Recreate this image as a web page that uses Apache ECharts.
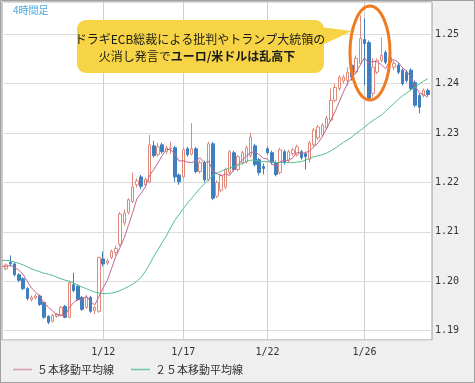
<!DOCTYPE html>
<html><head><meta charset="utf-8">
<script src="https://cdn.jsdelivr.net/npm/echarts@6/dist/echarts.min.js"></script>
<style>html,body{margin:0;padding:0;background:#efefef}#c{width:475px;height:383px}</style>
</head><body><div id="c"></div><script>
// tick labels (date) and their bar positions
const tickLabels = ['1/12', '1/17', '1/22', '1/26'];
const tickIndex = [24, 43, 63, 86];
const barCount = 103; // bar slots incl. an empty slot at each end

// 4-hour candles (bars 1..101)
const opens = [1.2025,1.2038,1.2035,1.2013,1.2005,1.1985,1.1963,1.1966,1.1970,1.1957,
1.1929,1.1919,1.1929,1.1931,1.1949,1.1927,1.1993,1.1990,1.1967,1.1947,
1.1967,1.1941,1.1939,1.2045,1.2037,1.2048,1.2058,1.2075,1.2118,1.2139,
1.2161,1.2195,1.2211,1.2195,1.2201,1.2274,1.2256,1.2276,1.2262,1.2268,
1.2270,1.2215,1.2211,1.2268,1.2257,1.2268,1.2222,1.2240,1.2205,1.2278,
1.2172,1.2184,1.2190,1.2220,1.2260,1.2226,1.2240,1.2242,1.2254,1.2274,
1.2246,1.2232,1.2268,1.2260,1.2240,1.2220,1.2262,1.2244,1.2258,1.2256,
1.2262,1.2258,1.2246,1.2276,1.2290,1.2296,1.2310,1.2326,1.2366,1.2390,
1.2405,1.2406,1.2437,1.2423,1.2441,1.2489,1.2483,1.2380,1.2423,1.2447,
1.2463,1.2443,1.2433,1.2437,1.2427,1.2423,1.2427,1.2402,1.2376,1.2376,1.2386];
const closes = [1.2033,1.2035,1.2013,1.2002,1.1985,1.1965,1.1967,1.1970,1.1953,1.1927,
1.1917,1.1931,1.1933,1.1947,1.1927,1.1997,1.1981,1.1963,1.1943,1.1967,
1.1939,1.1947,1.2048,1.2035,1.2041,1.2060,1.2066,1.2136,1.2138,1.2165,
1.2191,1.2203,1.2192,1.2206,1.2276,1.2254,1.2272,1.2262,1.2270,1.2270,
1.2211,1.2201,1.2266,1.2256,1.2268,1.2222,1.2240,1.2205,1.2278,1.2168,
1.2200,1.2214,1.2226,1.2262,1.2226,1.2252,1.2260,1.2270,1.2292,1.2236,
1.2220,1.2228,1.2260,1.2240,1.2216,1.2266,1.2240,1.2262,1.2266,1.2272,
1.2250,1.2252,1.2280,1.2306,1.2312,1.2316,1.2330,1.2366,1.2392,1.2413,
1.2413,1.2423,1.2413,1.2451,1.2491,1.2481,1.2370,1.2433,1.2447,1.2457,
1.2443,1.2453,1.2441,1.2423,1.2400,1.2406,1.2390,1.2356,1.2352,1.2386,1.2378];
const lows = [1.2022,1.2030,1.2010,1.1998,1.1982,1.1961,1.1959,1.1963,1.1950,1.1924,
1.1913,1.1916,1.1926,1.1929,1.1925,1.1925,1.1978,1.1960,1.1940,1.1944,
1.1936,1.1933,1.1936,1.2030,1.2033,1.2045,1.2052,1.2070,1.2112,1.2135,
1.2158,1.2190,1.2186,1.2190,1.2198,1.2250,1.2252,1.2258,1.2258,1.2258,
1.2201,1.2195,1.2208,1.2252,1.2254,1.2218,1.2218,1.2200,1.2202,1.2164,
1.2168,1.2180,1.2186,1.2216,1.2222,1.2222,1.2236,1.2238,1.2250,1.2232,
1.2214,1.2216,1.2256,1.2236,1.2212,1.2216,1.2236,1.2240,1.2254,1.2252,
1.2246,1.2226,1.2240,1.2272,1.2286,1.2292,1.2306,1.2322,1.2362,1.2386,
1.2400,1.2396,1.2406,1.2419,1.2437,1.2396,1.2366,1.2372,1.2419,1.2443,
1.2439,1.2439,1.2427,1.2419,1.2396,1.2402,1.2386,1.2352,1.2340,1.2372,1.2374];
const highs = [1.2036,1.2052,1.2038,1.2016,1.2008,1.1988,1.1971,1.1974,1.1973,1.1959,
1.1931,1.1934,1.1936,1.1950,1.1952,1.2000,1.2017,1.1993,1.1970,1.1972,
1.1970,1.1950,1.2050,1.2060,1.2046,1.2064,1.2072,1.2140,1.2145,1.2168,
1.2220,1.2208,1.2215,1.2210,1.2296,1.2284,1.2280,1.2280,1.2274,1.2282,
1.2274,1.2218,1.2270,1.2272,1.2320,1.2272,1.2244,1.2244,1.2282,1.2282,
1.2204,1.2218,1.2230,1.2266,1.2264,1.2256,1.2264,1.2275,1.2300,1.2278,
1.2250,1.2238,1.2272,1.2264,1.2244,1.2270,1.2266,1.2266,1.2270,1.2276,
1.2266,1.2262,1.2284,1.2310,1.2316,1.2320,1.2335,1.2390,1.2400,1.2416,
1.2418,1.2433,1.2441,1.2457,1.2538,1.2532,1.2487,1.2451,1.2451,1.2493,
1.2467,1.2457,1.2445,1.2441,1.2431,1.2427,1.2431,1.2406,1.2380,1.2390,1.2390];

// moving averages (bars 0..101)
const ma5 = [1.2030,1.2030,1.2032,1.2028,1.2022,1.2014,1.2000,1.1986,1.1978,1.1968,
1.1956,1.1947,1.1940,1.1932,1.1931,1.1931,1.1947,1.1957,1.1963,1.1962,
1.1970,1.1959,1.1952,1.1969,1.1987,1.2002,1.2026,1.2050,1.2068,1.2088,
1.2113,1.2139,1.2167,1.2178,1.2191,1.2214,1.2226,1.2240,1.2254,1.2267,
1.2266,1.2257,1.2243,1.2244,1.2241,1.2240,1.2243,1.2250,1.2238,1.2243,
1.2223,1.2218,1.2213,1.2217,1.2214,1.2226,1.2236,1.2245,1.2254,1.2260,
1.2262,1.2256,1.2249,1.2247,1.2237,1.2233,1.2242,1.2244,1.2245,1.2250,
1.2261,1.2258,1.2260,1.2264,1.2272,1.2280,1.2293,1.2309,1.2326,1.2343,
1.2363,1.2383,1.2401,1.2411,1.2423,1.2438,1.2452,1.2441,1.2445,1.2444,
1.2438,1.2430,1.2447,1.2448,1.2443,1.2432,1.2425,1.2412,1.2395,1.2381,1.2378,1.2372];
const ma25 = [1.2042,1.2042,1.2041,1.2039,1.2036,1.2033,1.2029,1.2025,1.2022,1.2019,
1.2016,1.2014,1.2012,1.2008,1.2005,1.2002,1.2000,1.1996,1.1992,1.1988,
1.1985,1.1981,1.1978,1.1976,1.1975,1.1975,1.1976,1.1978,1.1981,1.1985,
1.1989,1.1994,1.2000,1.2008,1.2020,1.2034,1.2050,1.2064,1.2078,1.2092,
1.2108,1.2123,1.2135,1.2147,1.2158,1.2168,1.2178,1.2188,1.2197,1.2205,
1.2214,1.2219,1.2223,1.2226,1.2229,1.2232,1.2235,1.2238,1.2242,1.2245,
1.2245,1.2243,1.2242,1.2242,1.2241,1.2240,1.2240,1.2240,1.2240,1.2240,
1.2241,1.2242,1.2245,1.2249,1.2252,1.2254,1.2256,1.2259,1.2264,1.2269,
1.2275,1.2281,1.2286,1.2292,1.2299,1.2305,1.2312,1.2319,1.2325,1.2331,
1.2336,1.2344,1.2352,1.2360,1.2368,1.2375,1.2381,1.2387,1.2393,1.2399,1.2405,1.2410];

const ma5Name = '５本移動平均線';
const ma25Name = '２５本移動平均線';

// ---- build library inputs ----
const labelAt = {};
tickIndex.forEach((k, j) => { labelAt[k] = tickLabels[j]; });
const categories = [];
for (let i = 0; i < barCount; i++) categories.push(labelAt[i] !== undefined ? labelAt[i] : '#' + i);
const isTick = (i) => labelAt[i] !== undefined;

const empty = ['-', '-', '-', '-'];
const candleData = [empty];
for (let i = 0; i < opens.length; i++) candleData.push([opens[i], closes[i], lows[i], highs[i]]);
while (candleData.length < barCount) candleData.push(empty);
const ma5Data = ma5.slice(); while (ma5Data.length < barCount) ma5Data.push('-');
const ma25Data = ma25.slice(); while (ma25Data.length < barCount) ma25Data.push('-');

const monoFont = 'DejaVu Sans Mono';
const jpFont = '"Noto Sans CJK JP", "Noto Sans", sans-serif';

const chart = echarts.init(document.getElementById('c'), null, { renderer: 'canvas' });
chart.setOption({
  animation: false,
  backgroundColor: '#efefef',
  grid: { left: 2, right: 43, top: 2, bottom: 43, show: true, backgroundColor: '#ffffff', borderColor: '#9a9a9a', borderWidth: 1 },
  xAxis: {
    type: 'category', data: categories, boundaryGap: false,
    axisLine: { show: false }, axisTick: { show: false },
    axisLabel: { interval: (i) => isTick(i), formatter: (v) => (v.charAt(0) === '#' ? '' : v),
      color: '#333', fontFamily: monoFont, fontSize: 10, margin: 7 },
    splitLine: { show: true, interval: (i) => isTick(i), lineStyle: { color: '#cfcfcf', width: 1 } }
  },
  yAxis: {
    type: 'value', position: 'right', min: 1.1881, max: 1.2565, splitNumber: 5, scale: true,
    axisLine: { show: false }, axisTick: { show: false },
    axisLabel: { color: '#333', fontFamily: monoFont, fontSize: 10, margin: 3, showMinLabel: false, showMaxLabel: false,
      formatter: (v) => v.toFixed(2) },
    splitLine: { lineStyle: { color: '#dcdcdc', width: 1 } }
  },
  legend: {
    data: [{ name: ma5Name, icon: 'rect' }, { name: ma25Name, icon: 'rect' }],
    left: 13, top: 364, padding: 0, itemWidth: 19, itemHeight: 1.5, itemGap: 17,
    textStyle: { fontSize: 11, color: '#333', fontFamily: jpFont }
  },
  series: [
    { type: 'candlestick', data: candleData, barWidth: 3,
      itemStyle: { color: '#ffffff', color0: '#3f7fc0', borderColor: '#e0897a', borderColor0: '#3f7fc0', borderWidth: 1 } },
    { type: 'line', name: ma5Name, data: ma5Data, showSymbol: false, symbol: 'none',
      lineStyle: { color: '#c2668e', width: 1 }, itemStyle: { color: '#d89aa6' } },
    { type: 'line', name: ma25Name, data: ma25Data, showSymbol: false, symbol: 'none',
      lineStyle: { color: '#52bf8f', width: 1 }, itemStyle: { color: '#6cc79f' } }
  ],
  graphic: [
    { type: 'rect', z: 200, silent: true, shape: { x: 0.5, y: 0.5, width: 474, height: 382 }, style: { fill: null, stroke: '#a0a0a0', lineWidth: 1 } },
    { type: 'text', z: 200, left: 13, top: 5, style: { text: '4時間足', fill: '#4aa8e0', font: '10px ' + jpFont } },
    { type: 'polygon', z: 150, shape: { points: [[320, 27], [352, 31], [320, 46]] }, style: { fill: '#f6d445' } },
    { type: 'rect', z: 151, shape: { x: 77, y: 20, width: 247, height: 53, r: 9 }, style: { fill: '#f6d445' } },
    { type: 'text', z: 152, x: 200, y: 39, style: { text: 'ドラギECB総裁による批判やトランプ大統領の', fill: '#1a1a1a', font: '12px ' + jpFont, align: 'center', verticalAlign: 'middle' } },
    { type: 'text', z: 152, x: 197, y: 56, style: { text: '{n|火消し発言で}{b|ユーロ/米ドルは乱高下}', fill: '#1a1a1a', font: '12px ' + jpFont, align: 'center', verticalAlign: 'middle',
      rich: { n: { fontSize: 12, fontFamily: jpFont, fontWeight: 'normal' }, b: { fontSize: 12, fontFamily: jpFont, fontWeight: 'bold' } } } },
    { type: 'ellipse', z: 160, shape: { cx: 370, cy: 53, rx: 20, ry: 47 }, style: { fill: null, stroke: '#f07a1e', lineWidth: 3 } }
  ]
});
</script></body></html>
